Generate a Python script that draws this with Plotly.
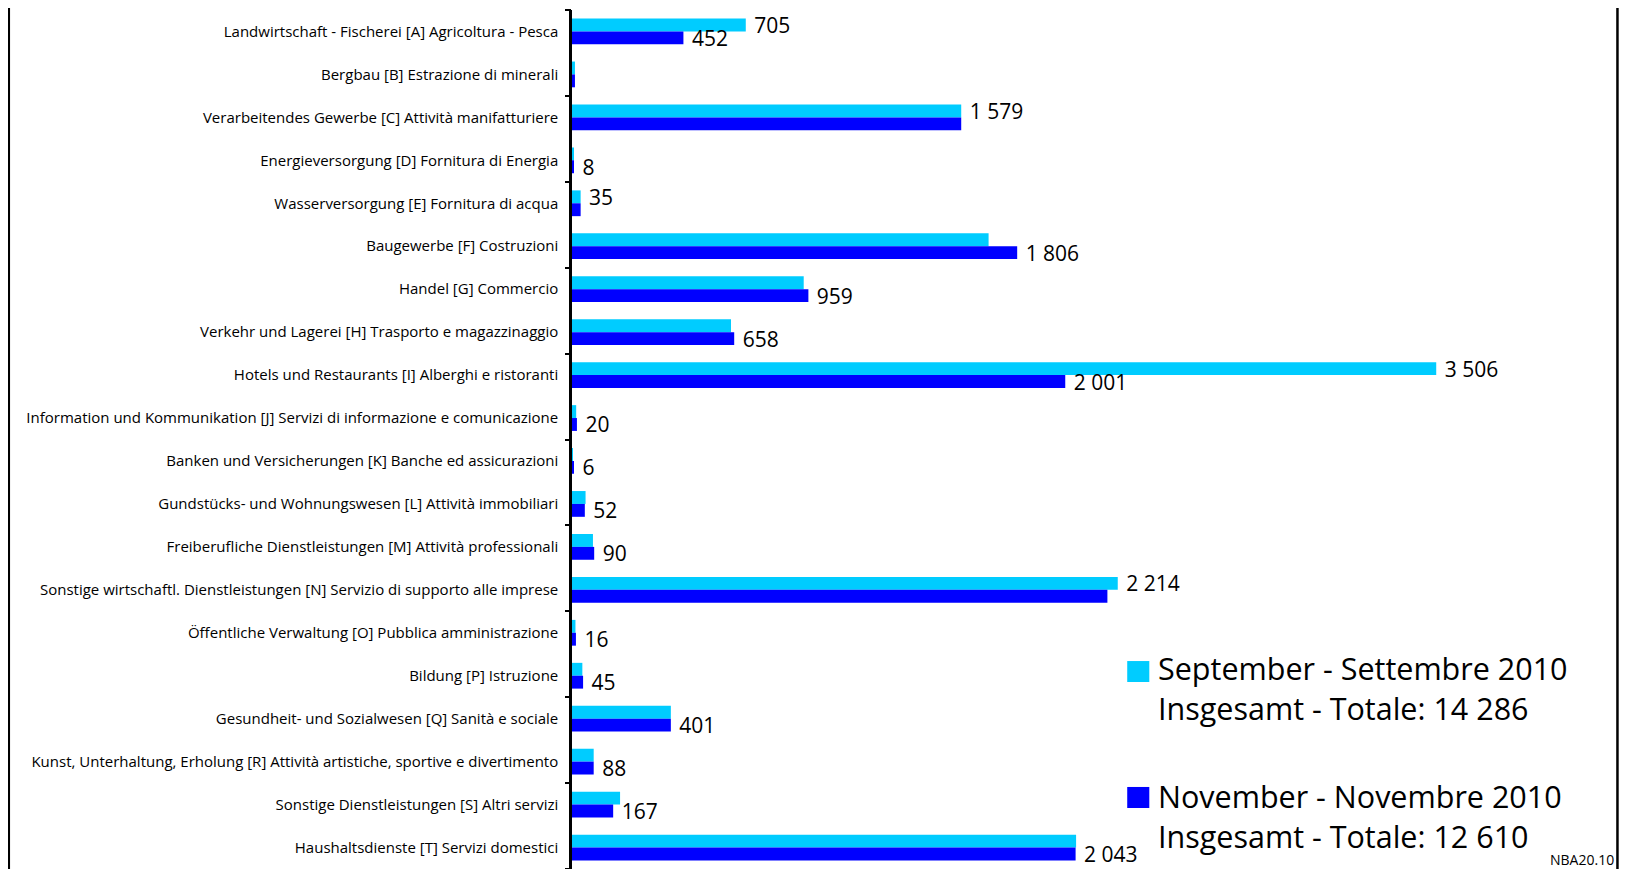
import plotly.graph_objects as go

categories = [
    "Landwirtschaft - Fischerei [A] Agricoltura - Pesca",
    "Bergbau [B] Estrazione di minerali",
    "Verarbeitendes Gewerbe [C] Attività manifatturiere",
    "Energieversorgung [D] Fornitura di Energia",
    "Wasserversorgung [E] Fornitura di acqua",
    "Baugewerbe [F] Costruzioni",
    "Handel [G] Commercio",
    "Verkehr und Lagerei [H] Trasporto e magazzinaggio",
    "Hotels und Restaurants [I] Alberghi e ristoranti",
    "Information und Kommunikation [J] Servizi di informazione e comunicazione",
    "Banken und Versicherungen [K] Banche ed assicurazioni",
    "Gundstücks- und Wohnungswesen [L] Attività immobiliari",
    "Freiberufliche Dienstleistungen [M] Attività professionali",
    "Sonstige wirtschaftl. Dienstleistungen [N] Servizio di supporto alle imprese",
    "Öffentliche Verwaltung [O] Pubblica amministrazione",
    "Bildung [P] Istruzione",
    "Gesundheit- und Sozialwesen [Q] Sanità e sociale",
    "Kunst, Unterhaltung, Erholung [R] Attività artistiche, sportive e divertimento",
    "Sonstige Dienstleistungen [S] Altri servizi",
    "Haushaltsdienste [T] Servizi domestici",
]

sep_values = [705, 12, 1579, 6, 35, 1690, 940, 645, 3506, 17, 4, 55, 85, 2214, 14, 42, 401, 88, 195, 2045]
nov_values = [452, 12, 1579, 8, 35, 1806, 959, 658, 2001, 20, 6, 52, 90, 2172, 16, 45, 401, 88, 167, 2043]

sep_label_shown = [1, 0, 1, 0, 1, 0, 0, 0, 1, 0, 0, 0, 0, 1, 0, 0, 0, 0, 0, 0]
nov_label_shown = [1, 0, 0, 1, 0, 1, 1, 1, 1, 1, 1, 1, 1, 0, 1, 1, 1, 1, 1, 1]

series_names = ["September - Settembre 2010", "November - Novembre 2010"]
series_totals = [14286, 12610]
total_label = "Insgesamt - Totale: "
series_colors = ["#00CCFF", "#0000FF"]
footer_code = "NBA20.10"

FONT = "Open Sans"


def fmt(v):
    return f"{v:,}".replace(",", " ")


def labels(values, shown):
    return ["\u00a0" + fmt(v) if s else "" for v, s in zip(values, shown)]


fig = go.Figure()
for name, vals, shown, col in [
    (series_names[0], sep_values, sep_label_shown, series_colors[0]),
    (series_names[1], nov_values, nov_label_shown, series_colors[1]),
]:
    fig.add_trace(go.Bar(
        y=categories, x=vals, orientation="h", name=name,
        marker=dict(color=col, line=dict(width=0)),
        text=labels(vals, shown), textposition="outside",
        constraintext="none", cliponaxis=False,
        textfont=dict(family=FONT, size=21, color="#000"),
        showlegend=False,
    ))

n = len(categories)
# invisible helper trace so the secondary y-axis (tick marks every 2 categories) is drawn
fig.add_trace(go.Scatter(x=[0], y=[0], yaxis="y2", mode="markers",
                         marker=dict(opacity=0), showlegend=False, hoverinfo="skip"))

fig.update_layout(
    width=1628, height=869,
    margin=dict(l=564, r=78, t=2, b=8),
    paper_bgcolor="white", plot_bgcolor="white",
    barmode="group", bargap=0.4, bargroupgap=0,
    font=dict(family=FONT, color="#000"),
    xaxis=dict(range=[0, 4000], visible=False, showgrid=False, zeroline=False),
    yaxis=dict(
        type="category", range=[n - 0.5, -0.5],
        showline=True, linecolor="#000", linewidth=2.5,
        ticks="", showgrid=False, zeroline=False,
        tickfont=dict(family=FONT, size=15, color="#000"),
        ticklabelstandoff=8,
    ),
    yaxis2=dict(
        overlaying="y", anchor="x", side="left", type="linear",
        range=[n - 0.5, -0.5],
        tickmode="array", tickvals=[i - 0.5 for i in range(0, n + 1, 2)],
        ticks="outside", ticklen=6, tickwidth=2, tickcolor="#000",
        showticklabels=False, showgrid=False, zeroline=False, showline=False,
    ),
)

# legend (drawn as swatches + two-line text)
leg_text_x = 0.5921
leg_rows = [((0.2177, 0.2421), 0.2109), ((0.0710, 0.0955), 0.0622)]
for ((y0, y1), ty), name, tot, col in zip(leg_rows, series_names, series_totals, series_colors):
    fig.add_shape(type="rect", xref="paper", yref="paper",
                  x0=0.5631, x1=0.5855, y0=y0, y1=y1,
                  fillcolor=col, line=dict(width=0))
    fig.add_annotation(xref="paper", yref="paper", x=leg_text_x, y=ty,
                       xanchor="left", yanchor="middle", align="left",
                       showarrow=False, text=f"{name}<br>{total_label}{fmt(tot)}",
                       font=dict(family=FONT, size=30.5, color="#000"))

fig.add_annotation(xref="paper", yref="paper", x=1.0593, y=0.0105,
                   xanchor="right", yanchor="middle", showarrow=False,
                   text=footer_code, font=dict(family=FONT, size=14, color="#000"))

# frame lines left/right
for xp, w in [(-0.5717, 3.5), (1.0603, 2.5)]:
    fig.add_shape(type="line", xref="paper", yref="paper",
                  x0=xp, x1=xp, y0=-0.02, y1=1.03,
                  line=dict(color="#000", width=w))

fig.write_html("out.html")
